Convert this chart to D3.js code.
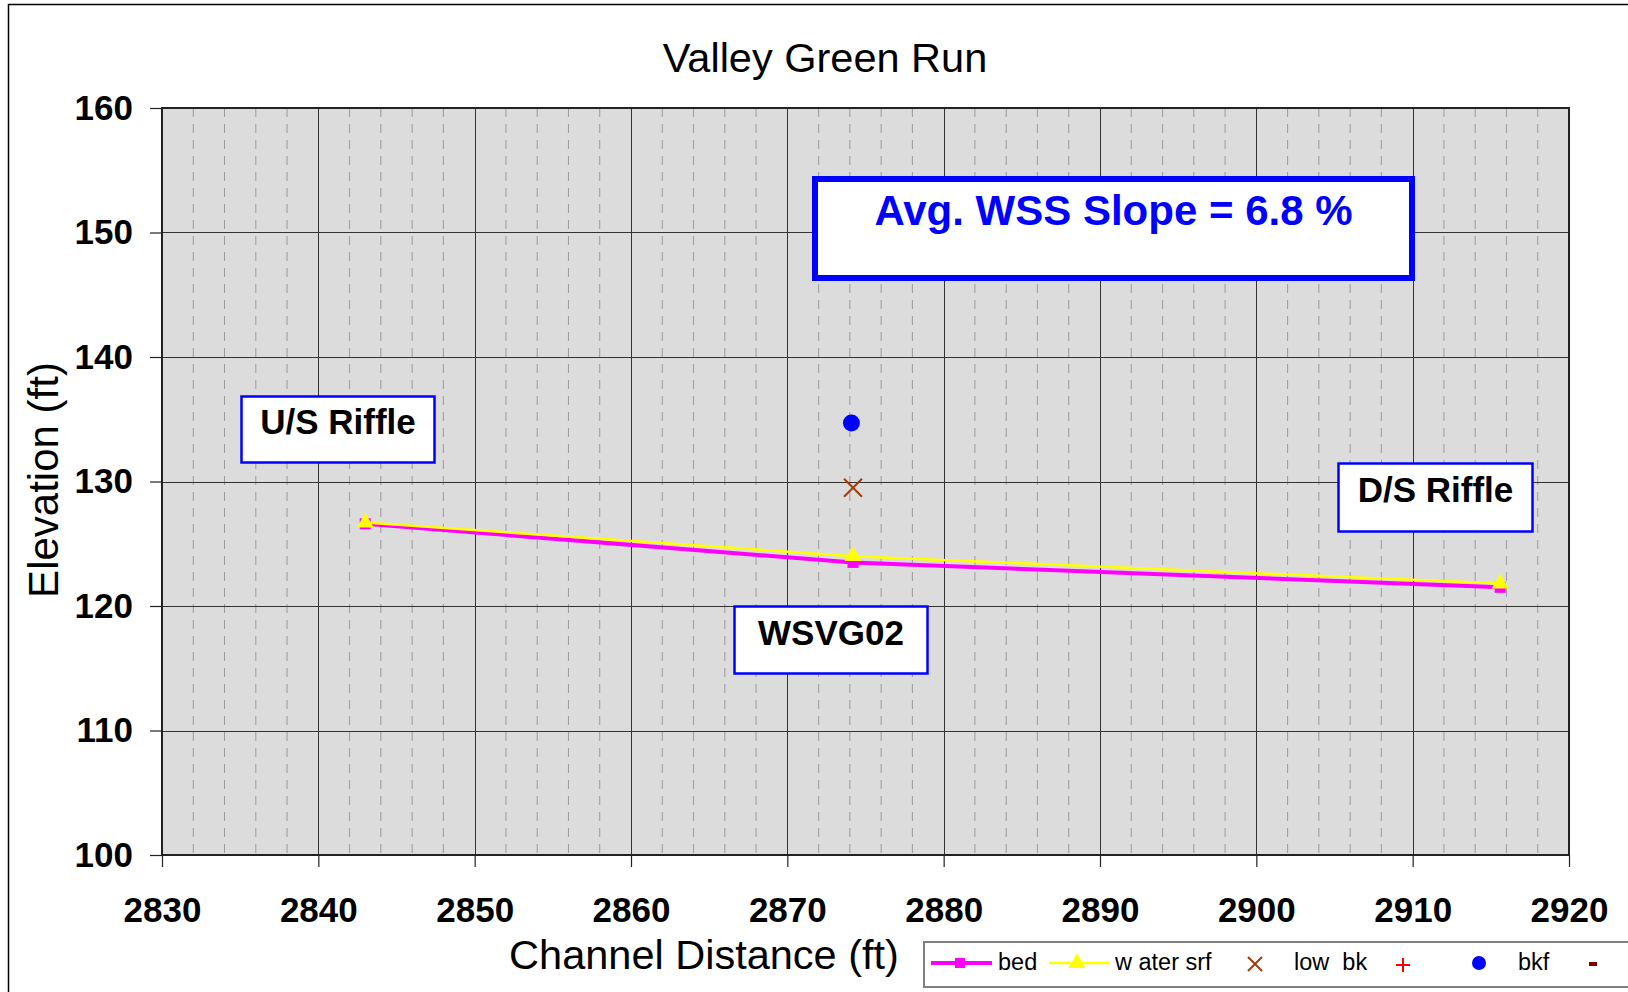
<!DOCTYPE html>
<html>
<head>
<meta charset="utf-8">
<script src="https://cdn.jsdelivr.net/npm/d3@7"></script>
<style>
  body { margin: 0; background: #fff; }
  text { font-family: "Liberation Sans", Arial, sans-serif; }
</style>
</head>
<body>
<div id="chart"></div>
<script>
// data
var bedX = [2843.0, 2874.2, 2915.6];
var bedY = [126.6, 123.5, 121.5];
var waterX = [2843.0, 2874.2, 2915.6];
var waterY = [126.7, 124.0, 121.8];
var lowBkX = [2874.2];
var lowBkY = [129.5];
var bkfX = [2874.1];
var bkfY = [134.7];
var xTicks = [2830, 2840, 2850, 2860, 2870, 2880, 2890, 2900, 2910, 2920];
var yTicks = [100, 110, 120, 130, 140, 150, 160];

var W = 1628, H = 992;
var margin = {top: 108, right: 59, bottom: 137, left: 162},
    width = W - margin.left - margin.right,
    height = H - margin.top - margin.bottom;

var svg = d3.select("#chart")
  .append("svg")
    .attr("width", W)
    .attr("height", H);

// outer chart frame
svg.append("rect")
  .attr("x", 8.5).attr("y", 4.5)
  .attr("width", W + 20).attr("height", H + 20)
  .attr("fill", "none").attr("stroke", "#000").attr("stroke-width", 1.5);

var g = svg.append("g")
  .attr("transform", "translate(" + margin.left + "," + margin.top + ")");

var x = d3.scaleLinear().domain([2830, 2920]).range([0, width]);
var y = d3.scaleLinear().domain([100, 160]).range([height, 0]);

// plot background
g.append("rect")
  .attr("width", width).attr("height", height)
  .attr("fill", "#dcdcdc");

// minor vertical dashed grid
var minor = d3.range(2830, 2920.1, 2).filter(function(d) { return d % 10 !== 0; });
g.selectAll(".minor")
  .data(minor)
  .enter().append("line")
    .attr("x1", function(d) { return x(d); })
    .attr("x2", function(d) { return x(d); })
    .attr("y1", 0).attr("y2", height)
    .attr("stroke", "#9a9a9a")
    .attr("stroke-width", 1)
    .attr("stroke-dasharray", "9,7");

// major grid
g.selectAll(".vmajor")
  .data(xTicks.slice(1, -1))
  .enter().append("line")
    .attr("x1", function(d) { return Math.round(x(d)) + 0.5; })
    .attr("x2", function(d) { return Math.round(x(d)) + 0.5; })
    .attr("y1", 0).attr("y2", height)
    .attr("stroke", "#333").attr("stroke-width", 1);
g.selectAll(".hmajor")
  .data(yTicks.slice(1, -1))
  .enter().append("line")
    .attr("y1", function(d) { return Math.round(y(d)) + 0.5; })
    .attr("y2", function(d) { return Math.round(y(d)) + 0.5; })
    .attr("x1", 0).attr("x2", width)
    .attr("stroke", "#333").attr("stroke-width", 1);

// plot border
g.append("rect")
  .attr("width", width).attr("height", height)
  .attr("fill", "none").attr("stroke", "#222").attr("stroke-width", 2);

// axes
var xAxis = g.append("g")
  .attr("transform", "translate(0," + height + ")")
  .call(d3.axisBottom(x).tickValues(xTicks).tickSize(12).tickPadding(30).tickFormat(d3.format("d")));
var yAxis = g.append("g")
  .call(d3.axisLeft(y).tickValues(yTicks).tickSize(12).tickPadding(17).tickFormat(d3.format("d")));
[xAxis, yAxis].forEach(function(a) {
  a.select(".domain").remove();
  a.selectAll("line").attr("stroke", "#222").attr("stroke-width", 1.2);
  a.selectAll("text")
    .attr("fill", "#000")
    .style("font-size", "35px")
    .style("font-weight", "bold")
    .style("font-family", "'Liberation Sans', Arial, sans-serif");
});
xAxis.selectAll("text").attr("dy", "0.71em");

// title and axis titles
svg.append("text")
  .attr("x", 825).attr("y", 72)
  .attr("text-anchor", "middle")
  .style("font-size", "41.5px")
  .text("Valley Green Run");
svg.append("text")
  .attr("x", 704).attr("y", 969)
  .attr("text-anchor", "middle")
  .style("font-size", "41.5px")
  .text("Channel Distance (ft)");
svg.append("text")
  .attr("transform", "translate(58,480) rotate(-90)")
  .attr("text-anchor", "middle")
  .style("font-size", "42px")
  .text("Elevation (ft)");

// series lines
var bed = bedX.map(function(d, i) { return [d, bedY[i]]; });
var water = waterX.map(function(d, i) { return [d, waterY[i]]; });
var line = d3.line()
  .x(function(d) { return x(d[0]); })
  .y(function(d) { return y(d[1]); });

g.append("path").datum(bed)
  .attr("d", line)
  .attr("fill", "none").attr("stroke", "#ff00ff").attr("stroke-width", 4);
g.selectAll(".bedpt").data(bed).enter().append("rect")
  .attr("x", function(d) { return x(d[0]) - 5.5; })
  .attr("y", function(d) { return y(d[1]) - 5.5; })
  .attr("width", 11).attr("height", 11)
  .attr("fill", "#ff00ff");

g.append("path").datum(water)
  .attr("d", line)
  .attr("fill", "none").attr("stroke", "#ffff00").attr("stroke-width", 2.5);
var tri = d3.symbol().type(d3.symbolTriangle).size(125);
g.selectAll(".wpt").data(water).enter().append("path")
  .attr("d", tri)
  .attr("transform", function(d) { return "translate(" + x(d[0]) + "," + y(d[1]) + ")"; })
  .attr("fill", "#ffff00");

// low bank
g.selectAll(".lbk").data(lowBkX).enter().append("path")
  .attr("d", function(d, i) {
    var cx = x(d), cy = y(lowBkY[i]), s = 9;
    return "M" + (cx - s) + "," + (cy - s) + "L" + (cx + s) + "," + (cy + s) +
           "M" + (cx - s) + "," + (cy + s) + "L" + (cx + s) + "," + (cy - s);
  })
  .attr("stroke", "#a63a0c").attr("stroke-width", 2).attr("fill", "none");

// bankfull
g.selectAll(".bkf").data(bkfX).enter().append("circle")
  .attr("cx", function(d) { return x(d); })
  .attr("cy", function(d, i) { return y(bkfY[i]); })
  .attr("r", 8.5)
  .attr("fill", "#0000ff");

// annotation boxes
function labelBox(x0, y0, w, h, sw, txt, size, color, ty) {
  svg.append("rect")
    .attr("x", x0).attr("y", y0).attr("width", w).attr("height", h)
    .attr("fill", "#fff").attr("stroke", "#0000ff").attr("stroke-width", sw);
  svg.append("text")
    .attr("x", x0 + w / 2).attr("y", ty)
    .attr("text-anchor", "middle")
    .attr("fill", color)
    .style("font-size", size + "px")
    .style("font-weight", "bold")
    .text(txt);
}
labelBox(815, 179, 597, 99, 6, "Avg. WSS Slope = 6.8 %", 42, "#0000ff", 225);
labelBox(241.5, 396.5, 193, 66, 2.5, "U/S Riffle", 35, "#000", 434);
labelBox(734.5, 606.5, 193, 67, 2.5, "WSVG02", 35, "#000", 645);
labelBox(1338.5, 463.5, 194, 68, 2.5, "D/S Riffle", 35, "#000", 502);

// legend
var lg = svg.append("g");
lg.append("rect")
  .attr("x", 924).attr("y", 942).attr("width", 760).attr("height", 45)
  .attr("fill", "#fff").attr("stroke", "#808080").attr("stroke-width", 2);
var ly = 963;
lg.append("line").attr("x1", 931).attr("x2", 992).attr("y1", ly).attr("y2", ly)
  .attr("stroke", "#ff00ff").attr("stroke-width", 4);
lg.append("rect").attr("x", 955).attr("y", ly - 5).attr("width", 10).attr("height", 10)
  .attr("fill", "#ff00ff");
lg.append("line").attr("x1", 1049).attr("x2", 1109).attr("y1", ly).attr("y2", ly)
  .attr("stroke", "#ffff00").attr("stroke-width", 2.5);
lg.append("path").attr("d", tri).attr("transform", "translate(1077," + ly + ")")
  .attr("fill", "#ffff00");
lg.append("path")
  .attr("d", "M1248,957L1262,971M1248,971L1262,957")
  .attr("stroke", "#a63a0c").attr("stroke-width", 2);
lg.append("path")
  .attr("d", "M1396,965L1410,965M1403,958L1403,972")
  .attr("stroke", "#ff0000").attr("stroke-width", 2);
lg.append("circle").attr("cx", 1479).attr("cy", ly).attr("r", 7)
  .attr("fill", "#0000ff");
lg.append("rect").attr("x", 1589).attr("y", ly - 1).attr("width", 8).attr("height", 4)
  .attr("fill", "#800000");
var legendText = [["bed", 998], ["w ater srf", 1115], ["low  bk", 1294], ["bkf", 1518]];
lg.selectAll(".lt").data(legendText).enter().append("text")
  .attr("x", function(d) { return d[1]; })
  .attr("y", ly + 7)
  .style("font-size", "23.5px")
  .style("white-space", "pre")
  .attr("xml:space", "preserve")
  .text(function(d) { return d[0]; });
</script>
</body>
</html>
